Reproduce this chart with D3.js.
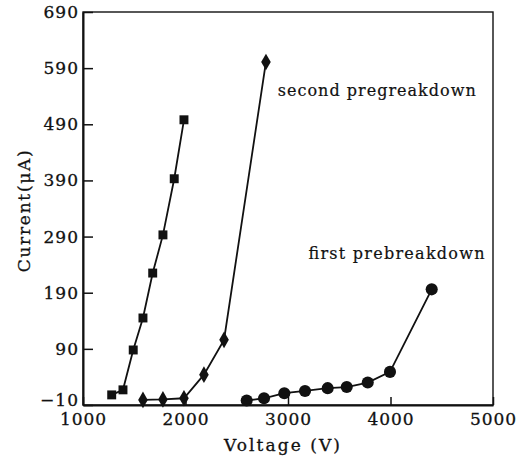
<!DOCTYPE html>
<html>
<head>
<meta charset="utf-8">
<script src="https://cdn.jsdelivr.net/npm/d3@7"></script>
<style>
  body { margin: 0; background: #fff; }
  svg { display: block; }
  .axis text { font-family: "DejaVu Serif", serif; fill: #111; }
</style>
</head>
<body>
<div id="chart"></div>
<script>
// ---- data ----
var xTicks = [1000, 2000, 3000, 4000, 5000];
var yTicks = [-10, 90, 190, 290, 390, 490, 590, 690];

// squares
var sqVolt = [1280, 1390, 1490, 1585, 1680, 1780, 1890, 1985];
var sqCurr = [8, 17, 88, 145, 225, 293, 393, 498];

// diamonds - second pregreakdown
var dmVolt = [1585, 1780, 1985, 2180, 2376, 2785];
var dmCurr = [-1, 0, 2, 44, 106, 601];

// circles - first prebreakdown
var ciVolt = [2597, 2766, 2964, 3166, 3387, 3573, 3778, 3995, 4402];
var ciCurr = [-2, 2, 11, 15, 20, 22, 30, 49, 196];

var W = 520, H = 456;
var margin = {top: 12, right: 27, bottom: 51, left: 83};
var width = W - margin.left - margin.right,
	height = H - margin.top - margin.bottom;

var svg = d3.select('#chart')
	.append('svg')
	.attr('width', W)
	.attr('height', H);

const chart = svg.append('g')
	.attr('transform', 'translate(' + margin.left + ', ' + margin.top + ')');

var xScale = d3.scaleLinear().domain([1000, 5000]).range([0, width]);
var yScale = d3.scaleLinear().domain([-10, 690]).range([height, 0]);

// frame: thin top/right, heavier left/bottom
chart.append('rect')
	.attr('x', xScale.range()[0])
	.attr('y', yScale.range()[1])
	.attr('width', xScale.range()[1] - xScale.range()[0])
	.attr('height', yScale.range()[0] - yScale.range()[1])
	.attr('fill', 'none')
	.attr('stroke', '#111')
	.attr('stroke-width', 1.4);

// X Axis (ticks inward)
var xAxisCall = d3.axisBottom(xScale).tickValues(xTicks).tickSizeInner(-8).tickSizeOuter(0).tickPadding(6)
	.tickFormat(d3.format('d'));
var gx = chart.append('g')
	.attr('class', 'x axis')
	.attr('transform', 'translate(0, ' + height + ')')
	.call(xAxisCall);
gx.select('.domain').attr('stroke', '#111').attr('stroke-width', 2);
gx.selectAll('.tick line').attr('stroke', '#111').attr('stroke-width', 1.5);
gx.selectAll('text').style('font-size', '17px').attr('letter-spacing', '1px').attr('dy', '0.8em')
	.attr('stroke', '#111').attr('stroke-width', 0.3);

// Y Axis (ticks inward)
var yAxisCall = d3.axisLeft(yScale).tickValues(yTicks).tickSizeInner(-10).tickSizeOuter(0).tickPadding(4)
	.tickFormat(function (d) { return d < 0 ? '\u2212' + Math.abs(d) : d; });
var gy = chart.append('g')
	.attr('class', 'y axis')
	.call(yAxisCall);
gy.select('.domain').attr('stroke', '#111').attr('stroke-width', 2);
gy.selectAll('.tick line').attr('stroke', '#111').attr('stroke-width', 1.5);
gy.selectAll('text').style('font-size', '17px').attr('letter-spacing', '1px')
	.attr('stroke', '#111').attr('stroke-width', 0.3)
	.attr('dy', function (d) { return d < 0 ? '0.05em' : '0.32em'; });

// axis titles
chart.append('text')
	.attr('x', width / 2 - 6)
	.attr('y', height + 46)
	.attr('text-anchor', 'middle')
	.attr('textLength', 116)
	.attr('lengthAdjust', 'spacing')
	.style('font-family', '"DejaVu Serif", serif')
	.style('font-size', '17px')
	.attr('fill', '#111')
	.attr('stroke', '#111').attr('stroke-width', 0.3)
	.text('Voltage (V)');

chart.append('text')
	.attr('transform', 'rotate(-90)')
	.attr('x', -(yScale(240) + yScale(430)) / 2)
	.attr('y', -margin.left + 30)
	.attr('text-anchor', 'middle')
	.attr('textLength', 122)
	.attr('lengthAdjust', 'spacing')
	.style('font-family', '"DejaVu Serif", serif')
	.style('font-size', '17px')
	.attr('fill', '#111')
	.attr('stroke', '#111').attr('stroke-width', 0.3)
	.text('Current(\u03bcA)');

// series
var line = d3.line()
	.x(function (d) { return xScale(d[0]); })
	.y(function (d) { return yScale(d[1]); });

function drawSeries(volt, curr, symbol, size) {
	var pts = volt.map(function (v, i) { return [v, curr[i]]; });
	chart.append('path')
		.datum(pts)
		.attr('fill', 'none')
		.attr('stroke', '#111')
		.attr('stroke-width', 1.8)
		.attr('d', line);
	chart.selectAll(null)
		.data(pts)
		.enter()
		.append('path')
		.attr('transform', function (d) { return 'translate(' + xScale(d[0]) + ',' + yScale(d[1]) + ')'; })
		.attr('d', d3.symbol().type(symbol).size(size))
		.attr('fill', '#111');
}

drawSeries(sqVolt, sqCurr, d3.symbolSquare, 80);
drawSeries(dmVolt, dmCurr, d3.symbolDiamond, 80);
drawSeries(ciVolt, ciCurr, d3.symbolCircle, 115);

// annotations
chart.append('text')
	.attr('x', xScale(2900))
	.attr('y', yScale(540))
	.attr('textLength', 198)
	.attr('lengthAdjust', 'spacing')
	.style('font-family', '"DejaVu Serif", serif')
	.style('font-size', '16px')
	.attr('fill', '#111')
	.attr('stroke', '#111').attr('stroke-width', 0.2)
	.text('second pregreakdown');

chart.append('text')
	.attr('x', xScale(3200))
	.attr('y', yScale(250))
	.attr('textLength', 176)
	.attr('lengthAdjust', 'spacing')
	.style('font-family', '"DejaVu Serif", serif')
	.style('font-size', '16px')
	.attr('fill', '#111')
	.attr('stroke', '#111').attr('stroke-width', 0.2)
	.text('first prebreakdown');
</script>
</body>
</html>
